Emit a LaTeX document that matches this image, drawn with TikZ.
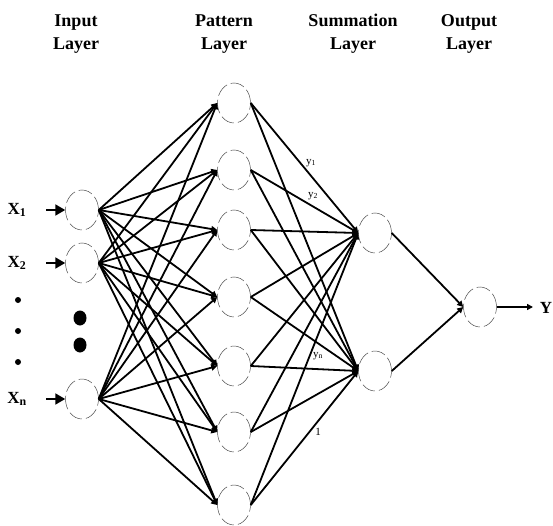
\documentclass[tikz,border=0pt]{standalone}
\usepackage{fontspec}
\setmainfont{Liberation Serif}
\usetikzlibrary{shapes.geometric,arrows.meta}
\begin{document}
\begin{tikzpicture}[x=1pt,y=-1pt,
 neuron/.style={ellipse,draw=black!70,line width=0.5pt,dash pattern=on 14pt off 4pt,minimum width=33pt,minimum height=40pt,inner sep=0pt},
 conn/.style={line width=1.8pt,-{Triangle[length=6pt,width=6pt]}},
 inarrow/.style={line width=2pt,-{Triangle[length=10pt,width=11pt]}},
 head/.style={font=\bfseries\fontsize{18}{23}\selectfont,align=center},
 xlab/.style={font=\bfseries\fontsize{17}{17}\selectfont,inner sep=0pt},
 wlabel/.style={font=\fontsize{11}{11}\selectfont,inner sep=0pt}
]
\useasboundingbox (0,0) rectangle (553,526);

% headers
\node[head] (hin) at (76,34) {Input\\Layer};
\node[head] (hpat) at (224,34) {Pattern\\Layer};
\node[head] (hsum) at (353,34) {Summation\\Layer};
\node[head] (hout) at (469,34) {Output\\Layer};

% input layer
\node[neuron] (i1) at (82,210) {};
\node[neuron] (i2) at (82,263) {};
\node[neuron] (i3) at (82,399) {};

% pattern layer
\node[neuron] (p1) at (234,103) {};
\node[neuron] (p2) at (234,170) {};
\node[neuron] (p3) at (234,230) {};
\node[neuron] (p4) at (234,297) {};
\node[neuron] (p5) at (234,366) {};
\node[neuron] (p6) at (234,432) {};
\node[neuron] (p7) at (234,505) {};

% summation layer
\node[neuron] (s1) at (375,233) {};
\node[neuron] (s2) at (375,371) {};

% output
\node[neuron] (o) at (480,307) {};

% input labels and arrows
\node[xlab] (x1) at (17,210) {X\textsubscript{1}};
\node[xlab] (x2) at (17,263) {X\textsubscript{2}};
\node[xlab] (x3) at (17,399) {X\textsubscript{n}};
\coordinate (a1) at (46,210);
\coordinate (a2) at (46,263);
\coordinate (a3) at (46,399);
\draw[inarrow] (a1) -- (i1.west);
\draw[inarrow] (a2) -- (i2.west);
\draw[inarrow] (a3) -- (i3.west);

% dots
\fill (18,300) circle (3);
\fill (18,331) circle (3);
\fill (18,362) circle (3);
\fill (80,318) ellipse (6.5 and 7.5);
\fill (80,345) ellipse (6.5 and 7.5);

% input -> pattern
\foreach \i in {i1,i2,i3}
  \foreach \p in {p1,p2,p3,p4,p5,p6,p7}
    \draw[conn] (\i.east) -- (\p.west);

% pattern -> summation
\foreach \p in {p1,p2,p3,p4,p5,p6,p7}
  \foreach \s in {s1,s2}
    \draw[conn] (\p.east) -- (\s.west);

% summation -> output
\draw[conn] (s1.east) -- (o.west);
\draw[conn] (s2.east) -- (o.west);
\coordinate (yend) at (533,307);
\draw[conn] (o.east) -- (yend);
\node[xlab] (ylab) at (546,308) {Y};

% weight labels
\node[wlabel] (ly1) at (311,163) {y\textsubscript{1}};
\node[wlabel] (ly2) at (313,196) {y\textsubscript{2}};
\node[wlabel] (lyn) at (318,356) {y\textsubscript{n}};
\node[wlabel] (lone) at (318,432) {1};
\end{tikzpicture}
\end{document}
